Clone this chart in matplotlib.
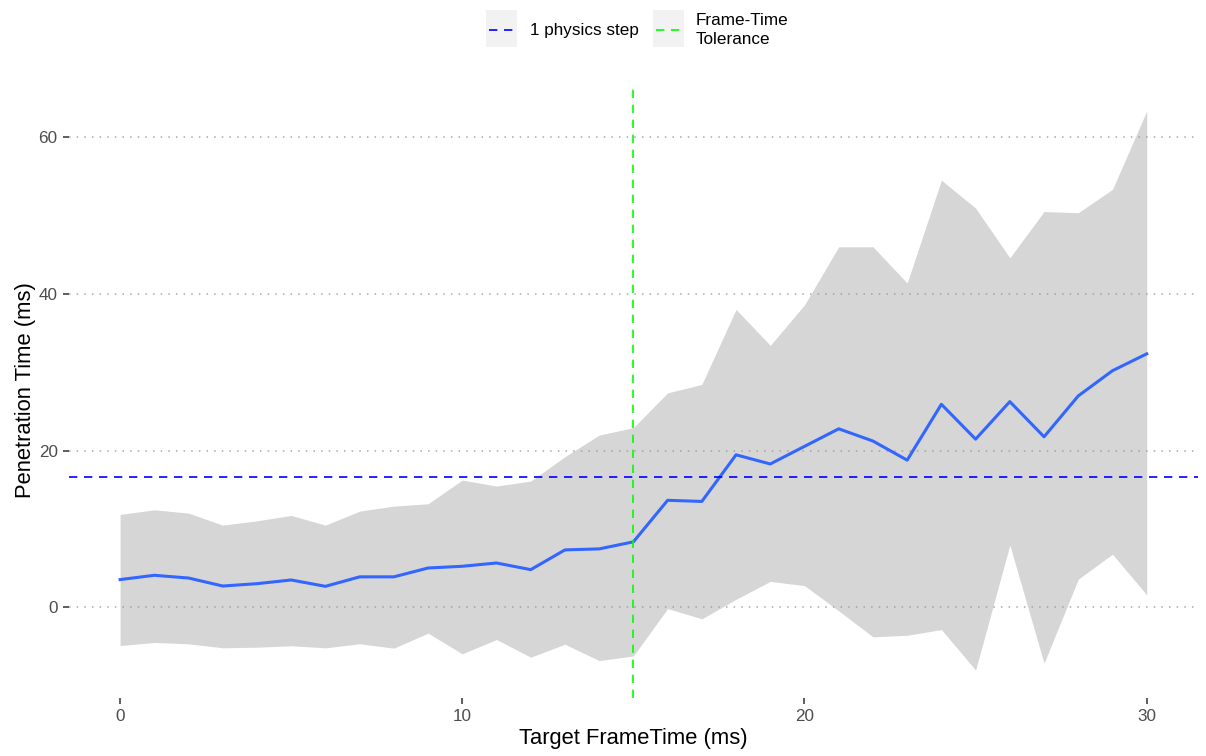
import matplotlib
matplotlib.use("Agg")
import matplotlib.pyplot as plt
from matplotlib.patches import Rectangle
from matplotlib.lines import Line2D
import numpy as np

plt.rcParams["font.family"] = ["Liberation Sans", "DejaVu Sans"]

# Target frame time (ms)
frame_time = list(range(0, 31))

# Mean penetration time (ms)
mean_pen = [3.55, 4.1, 3.75, 2.73, 3.03, 3.5, 2.69, 3.9, 3.9, 5.03,
            5.25, 5.67, 4.82, 7.34, 7.47, 8.37, 13.67, 13.53, 19.48, 18.31,
            20.56, 22.8, 21.24, 18.8, 25.93, 21.48, 26.27, 21.78, 27.0, 30.22,
            32.37]

# Upper bound of the spread band (ms)
upper_pen = [11.87, 12.46, 12.04, 10.5, 11.05, 11.74, 10.5, 12.29, 12.93, 13.23,
             16.26, 15.49, 16.13, 19.24, 22.0, 22.95, 27.39, 28.47, 38.04, 33.45,
             38.62, 46.04, 46.04, 41.41, 54.54, 50.98, 44.63, 50.54, 50.39, 53.37,
             63.38]

# Lower bound of the spread band (ms)
lower_pen = [-4.87, -4.48, -4.65, -5.16, -5.08, -4.9, -5.16, -4.65, -5.2, -3.29,
             -5.93, -4.1, -6.36, -4.7, -6.79, -6.2, -0.15, -1.46, 1.03, 3.32,
             2.78, -0.44, -3.76, -3.56, -2.83, -8.0, 7.96, -7.13, 3.61, 6.79,
             1.61]

physics_step = 1000 / 60.0   # one physics step at 60 Hz
tolerance = 15               # frame-time tolerance

x_ticks = [0, 10, 20, 30]
y_ticks = [0, 20, 40, 60]

fig = plt.figure(figsize=(12.06, 7.56), dpi=100)
ax = fig.add_axes([0.057, 0.0767, 0.9364, 0.8135])

ax.fill_between(frame_time, lower_pen, upper_pen, color="#999999", alpha=0.4,
                linewidth=0, zorder=2)
ax.plot(frame_time, mean_pen, color="#3366FF", linewidth=2.2, zorder=3,
        solid_joinstyle="round")
ax.axhline(physics_step, color="#0000FF", linewidth=1.2, dashes=(5, 4), zorder=4)
ax.axvline(tolerance, color="#00FF00", linewidth=1.2, dashes=(5, 4), zorder=4)

xmin, xmax = min(frame_time), max(frame_time)
xr = xmax - xmin
ax.set_xlim(xmin - 0.05 * xr, xmax + 0.05 * xr)
ymin, ymax = min(lower_pen), max(upper_pen)
yr = ymax - ymin
ax.set_ylim(ymin - 0.05 * yr, ymax + 0.05 * yr)

ax.set_xticks(x_ticks)
ax.set_yticks(y_ticks)
ax.tick_params(axis="both", colors="#333333", labelcolor="#4D4D4D",
               labelsize=12.3, length=4, width=1.1, pad=4)
ax.grid(axis="y", color="#AAAAAA", linestyle=(0, (1, 4)), linewidth=1.1, zorder=1)
ax.grid(axis="x", visible=False)
ax.set_axisbelow(True)
for s in ax.spines.values():
    s.set_visible(False)

ax.set_xlabel("Target FrameTime (ms)", fontsize=15.8, color="black", labelpad=3)
ax.set_ylabel("Penetration Time (ms)", fontsize=15.8, color="black", labelpad=2)

# Legend across the top
W, H = 1206.0, 756.0
def fx(px):
    return px / W
def fy(py):
    return 1 - py / H

keys = [(486, "#0000FF", "1 physics step", 530),
        (653, "#00FF00", "Frame-Time\nTolerance", 696)]
for kx, col, label, tx in keys:
    fig.add_artist(Rectangle((fx(kx), fy(46.5)), fx(31), 36.5 / H,
                             transform=fig.transFigure, facecolor="#F2F2F2",
                             edgecolor="none"))
    fig.add_artist(Line2D([fx(kx + 3), fx(kx + 28)], [fy(30), fy(30)],
                          transform=fig.transFigure, color=col, linewidth=1.2,
                          dashes=(5, 4)))
    fig.text(fx(tx), fy(30), label, fontsize=12.3, color="black",
             ha="left", va="center", linespacing=1.4)

fig.savefig("out.png", dpi=100, facecolor="white")
